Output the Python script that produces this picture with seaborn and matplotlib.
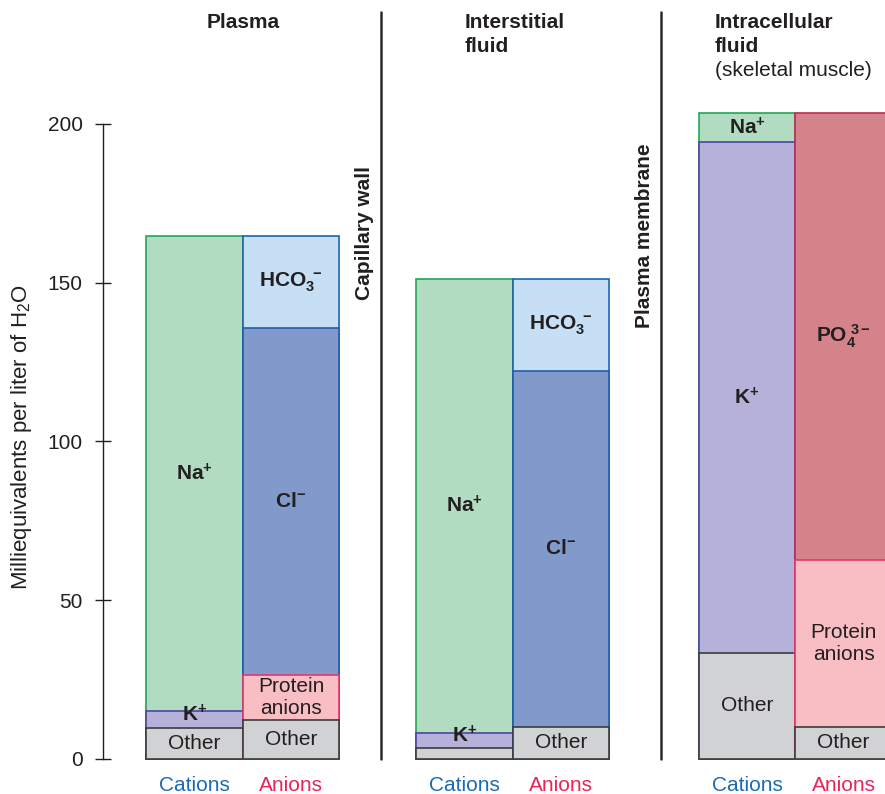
import numpy as np
import matplotlib
matplotlib.use("Agg")
import matplotlib.pyplot as plt
from matplotlib.lines import Line2D
import seaborn as sns

# ---------------- data ----------------
sides = ["Cations", "Anions"]
compartments = ["Plasma", "Interstitial", "Intracellular"]

plasma_cation_ions = ["Other", "K+", "Na+"]
plasma_cation_values = [9.8, 5.2, 149.7]
plasma_anion_ions = ["Other", "Protein anions", "Cl-", "HCO3-"]
plasma_anion_values = [12.3, 14.2, 109.2, 29.0]

interstitial_cation_ions = ["Other", "K+", "Na+"]
interstitial_cation_values = [3.5, 4.7, 143.0]
interstitial_anion_ions = ["Other", "Cl-", "HCO3-"]
interstitial_anion_values = [10.1, 112.1, 29.0]

intracellular_cation_ions = ["Other", "K+", "Na+"]
intracellular_cation_values = [33.4, 160.9, 9.2]
intracellular_anion_ions = ["Other", "Protein anions", "PO4 3-"]
intracellular_anion_values = [10.1, 52.6, 140.8]

y_ticks = [0, 50, 100, 150, 200]
unlabeled = {("Interstitial", "Cations", "Other")}

ion_labels = {
    "Other": "Other",
    "K+": r"$\mathbf{K^{+}}$",
    "Na+": r"$\mathbf{Na^{+}}$",
    "Cl-": r"$\mathbf{Cl^{-}}$",
    "HCO3-": r"$\mathbf{HCO_3^{\,\,-}}$",
    "PO4 3-": r"$\mathbf{PO_4^{\,\,3-}}$",
    "Protein anions": "Protein\nanions",
}

# ---------------- style ----------------
fills = {"Other": "#d1d2d4", "K+": "#b6b1d8", "Na+": "#b2dcc1",
         "Cl-": "#8299cc", "HCO3-": "#c7dff4",
         "Protein anions": "#f8bec4", "PO4 3-": "#d5838a"}
edges = {"Other": "#3c3c3c", "K+": "#4b45a5", "Na+": "#22a556",
         "Cl-": "#1f5fab", "HCO3-": "#1f63b0",
         "Protein anions": "#e8356b", "PO4 3-": "#c42a55"}
TXT = "#231f20"
CAT_COL = "#1a6ab5"
AN_COL = "#e8245a"
FS = 15

sns.set_style("white")
plt.rcParams["font.family"] = ["Liberation Sans", "DejaVu Sans"]
plt.rcParams["mathtext.fontset"] = "custom"
plt.rcParams["mathtext.rm"] = "Liberation Sans"
plt.rcParams["mathtext.bf"] = "Liberation Sans:bold"
plt.rcParams["mathtext.it"] = "Liberation Sans:italic"

W, H = 885, 794
fig = plt.figure(figsize=(W / 100, H / 100), dpi=100)

y0_px = 759
px_per_unit = 3.175
ymax = 205
bottom_f = (H - y0_px) / H
height_f = ymax * px_per_unit / H
bar_px = 96.5

# (left px, right px, cation-bar centre px)
panels = [(103, 381, 194.5), (381, 661, 464.5), (661, 885, 747.0)]
groups = {
    "Plasma": [(plasma_cation_ions, plasma_cation_values),
               (plasma_anion_ions, plasma_anion_values)],
    "Interstitial": [(interstitial_cation_ions, interstitial_cation_values),
                     (interstitial_anion_ions, interstitial_anion_values)],
    "Intracellular": [(intracellular_cation_ions, intracellular_cation_values),
                      (intracellular_anion_ions, intracellular_anion_values)],
}

axes = []
for (L, R, c), comp in zip(panels, compartments):
    ax = fig.add_axes([L / W, bottom_f, (R - L) / W, height_f])
    axes.append(ax)
    for side, (ions, vals) in zip(sides, groups[comp]):
        vals = np.asarray(vals, dtype=float)
        tops = np.cumsum(vals)
        bots = tops - vals
        for ion, top in reversed(list(zip(ions, tops))):
            sns.barplot(x=[side], y=[top], order=sides, width=1.0,
                        color=fills[ion], edgecolor=edges[ion], linewidth=1.2,
                        saturation=1, errorbar=None, ax=ax, clip_on=False)
        xi = sides.index(side)
        for ion, b, t in zip(ions, bots, tops):
            if (comp, side, ion) in unlabeled:
                continue
            if ion == "K+" and (t - b) < 8:
                yy = t - 1.0
            else:
                yy = (b + t) / 2
            ax.text(xi, yy, ion_labels[ion], ha="center", va="center",
                    fontsize=FS, color=TXT, linespacing=1.25,
                    fontweight="normal", zorder=5)
    ax.set_xlim((L - c) / bar_px, (R - c) / bar_px)
    ax.set_ylim(0, ymax)
    ax.set_xlabel("")
    ax.set_ylabel("")
    ax.set_xticks([0, 1])
    ax.set_xticklabels(sides, fontsize=FS)
    ax.get_xticklabels()[0].set_color(CAT_COL)
    ax.get_xticklabels()[1].set_color(AN_COL)
    ax.tick_params(axis="x", length=0, pad=12.5)
    for s in ["top", "right", "bottom"]:
        ax.spines[s].set_visible(False)
    ax.patch.set_alpha(0)
    if ax is axes[0]:
        ax.spines["left"].set_bounds(0, 200)
        ax.spines["left"].set_color(TXT)
        ax.spines["left"].set_linewidth(1.0)
        ax.set_yticks(y_ticks)
        ax.set_yticklabels([str(v) for v in y_ticks], fontsize=FS, color=TXT)
        ax.tick_params(axis="y", direction="inout", length=11, width=1.0,
                       color=TXT, pad=9, left=True)
    else:
        ax.spines["left"].set_visible(False)
        ax.set_yticks([])

# y-axis label
fig.text(22 / W, 1 - 437 / H, r"Milliequivalents per liter of H$_2$O",
         rotation=90, ha="center", va="center", fontsize=16, color=TXT)

# titles
def ftext(x, y, s, **kw):
    fig.text(x / W, 1 - y / H, s, fontsize=FS, color=TXT, **kw)

ftext(243, 22, "Plasma", ha="center", va="center", fontweight="bold")
ftext(465, 22, "Interstitial", ha="left", va="center", fontweight="bold")
ftext(465, 46, "fluid", ha="left", va="center", fontweight="bold")
ftext(715, 22, "Intracellular", ha="left", va="center", fontweight="bold")
ftext(715, 46, "fluid", ha="left", va="center", fontweight="bold")
ftext(715, 70, "(skeletal muscle)", ha="left", va="center")
ftext(364, 233, "Capillary wall", ha="center", va="center",
      rotation=90, fontweight="bold")
ftext(644, 236, "Plasma membrane", ha="center", va="center",
      rotation=90, fontweight="bold")

# separators
for xs in (381, 661):
    fig.add_artist(Line2D([xs / W, xs / W], [1 - 12 / H, 1 - 759 / H],
                          color="#2a2a2a", linewidth=1.8))

fig.savefig("out.png", dpi=100, facecolor="white")
